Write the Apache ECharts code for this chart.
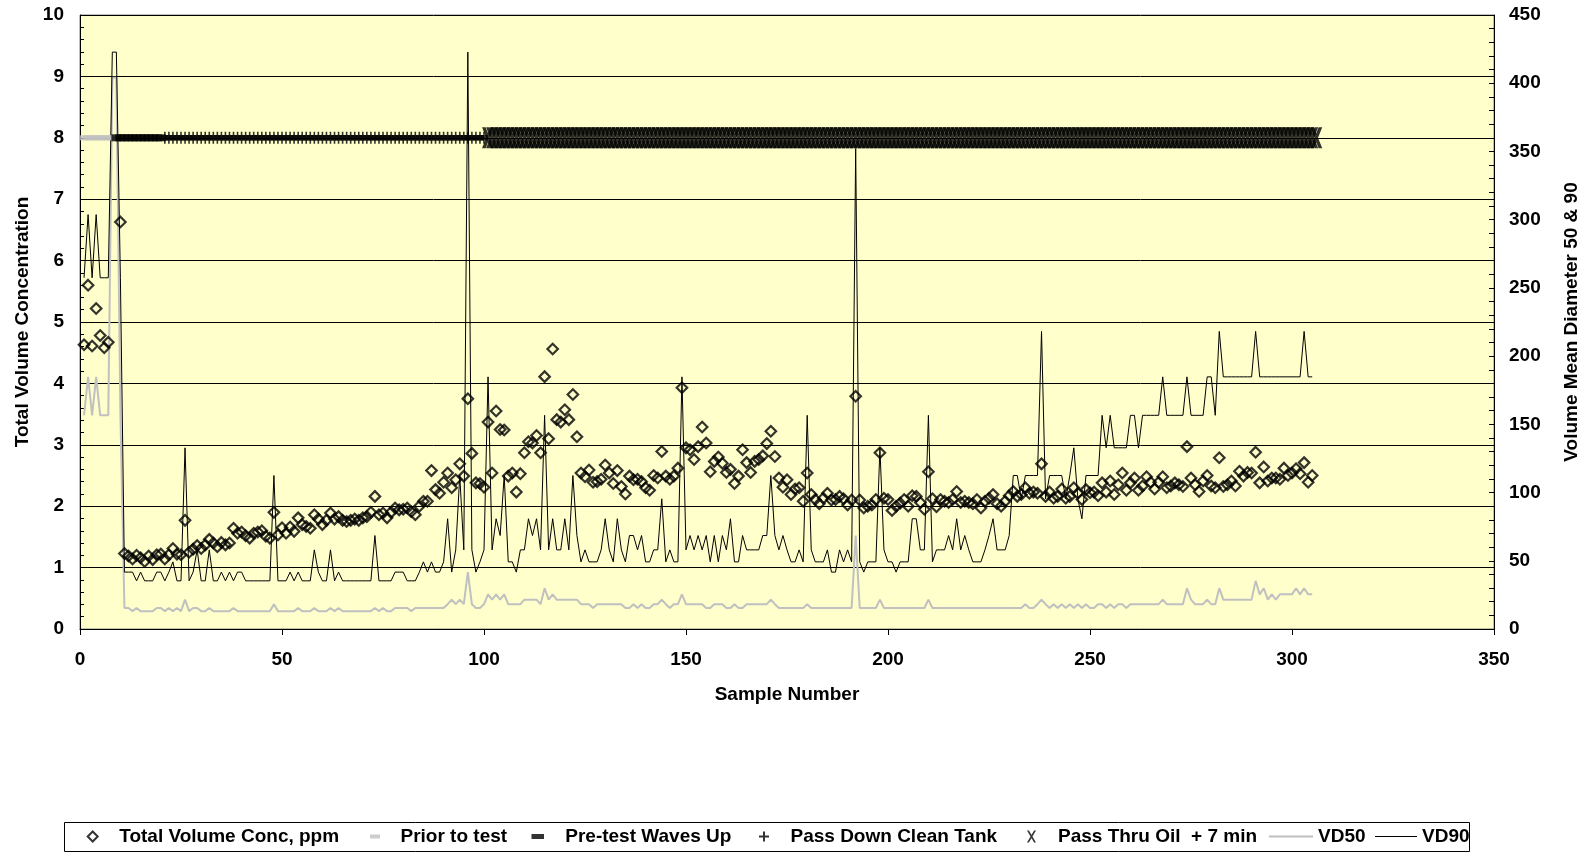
<!DOCTYPE html>
<html>
<head>
<meta charset="utf-8">
<script src="https://cdn.jsdelivr.net/npm/echarts/dist/echarts.min.js"></script>
<style>
html,body{margin:0;padding:0;background:#fff;}
#chart{width:1589px;height:853px;}
</style>
</head>
<body>
<div id="chart"></div>
<script>
// ---------------- data ----------------
const sampleStart = 1; // first sample number

// Total Volume Concentration (ppm), left axis, samples 1..305
const totalConc = [
4.63,5.60,4.61,5.22,4.78,4.58,4.67,null,null,6.63,
1.23,1.19,1.14,1.20,1.16,1.10,1.19,1.13,1.21,1.22,
1.14,1.21,1.31,1.22,1.21,1.77,1.25,1.30,1.36,1.31,
1.37,1.46,1.40,1.34,1.41,1.37,1.40,1.64,1.56,1.58,
1.52,1.48,1.56,1.58,1.60,1.51,1.48,1.90,1.53,1.65,
1.56,1.66,1.59,1.81,1.70,1.67,1.64,1.86,1.79,1.70,
1.77,1.89,1.79,1.83,1.77,1.75,1.77,1.79,1.77,1.81,
1.83,1.90,2.16,1.86,1.89,1.81,1.90,1.97,1.94,1.95,
1.97,1.91,1.86,2.00,2.08,2.08,2.58,2.27,2.21,2.39,
2.54,2.30,2.43,2.69,2.49,3.75,2.86,2.38,2.37,2.31,
3.37,2.54,3.55,3.25,3.24,2.49,2.54,2.23,2.53,2.87,
3.05,3.03,3.15,2.87,4.11,3.10,4.56,3.41,3.37,3.57,
3.41,3.82,3.13,2.54,2.48,2.59,2.39,2.40,2.44,2.67,
2.54,2.37,2.58,2.32,2.20,2.49,2.43,2.44,2.40,2.30,
2.26,2.50,2.46,2.89,2.49,2.44,2.49,2.62,3.93,2.95,
2.92,2.76,2.97,3.29,3.03,2.56,2.73,2.80,2.70,2.55,
2.60,2.37,2.49,2.92,2.71,2.55,2.73,2.76,2.82,3.02,
3.22,2.81,2.46,2.31,2.43,2.19,2.28,2.30,2.08,2.54,
2.19,2.11,2.04,2.13,2.21,2.10,2.11,2.16,2.12,2.02,
2.10,3.79,2.10,1.97,2.00,2.02,2.11,2.87,2.13,2.11,
1.93,2.00,2.05,2.11,2.00,2.17,2.16,2.06,1.95,2.56,
2.12,1.99,2.11,2.08,2.06,2.11,2.24,2.06,2.08,2.06,
2.04,2.11,1.97,2.08,2.13,2.19,2.04,2.00,2.08,2.17,
2.24,2.16,2.19,2.30,2.21,2.23,2.21,2.69,2.16,2.23,
2.13,2.16,2.28,2.13,2.16,2.30,2.21,2.11,2.27,2.22,
2.23,2.17,2.38,2.23,2.41,2.19,2.35,2.54,2.26,2.38,
2.46,2.26,2.33,2.48,2.39,2.28,2.39,2.48,2.30,2.33,
2.38,2.35,2.32,2.97,2.46,2.35,2.24,2.41,2.50,2.33,
2.30,2.79,2.32,2.35,2.41,2.33,2.57,2.49,2.55,2.54,
2.88,2.38,2.64,2.41,2.46,2.46,2.44,2.62,2.50,2.54,
2.61,2.53,2.71,2.39,2.50
];

// VD50 (right axis)
const vd50 = [
156.6,184.8,156.6,184.8,156.6,156.6,156.6,404,404,156.6,
15.4,15.4,13.1,15.4,13.1,13.1,13.1,13.1,15.4,15.4,
13.1,15.4,13.1,15.4,13.1,21.5,13.1,15.4,15.4,13.1,
13.1,15.4,13.1,13.1,13.1,13.1,13.1,15.4,13.1,13.1,
13.1,13.1,13.1,13.1,13.1,13.1,13.1,18.2,13.1,13.1,
13.1,13.1,13.1,15.4,13.1,13.1,13.1,15.4,13.1,13.1,
13.1,15.4,13.1,15.4,13.1,13.1,13.1,13.1,13.1,13.1,
13.1,13.1,15.4,13.1,15.4,13.1,13.1,15.4,15.4,15.4,
15.4,13.1,15.4,15.4,15.4,15.4,15.4,15.4,15.4,15.4,
18.2,21.5,18.2,21.5,18.2,41.7,18.2,15.4,15.4,18.2,
25.4,21.5,25.4,21.5,25.4,18.2,18.2,18.2,18.2,21.5,
21.5,21.5,21.5,18.2,29.9,21.5,25.4,21.5,21.5,21.5,
21.5,21.5,21.5,18.2,18.2,18.2,15.4,18.2,18.2,18.2,
18.2,18.2,18.2,18.2,15.4,15.4,18.2,15.4,18.2,15.4,
15.4,18.2,18.2,21.5,18.2,15.4,18.2,18.2,25.4,18.2,
18.2,18.2,18.2,18.2,15.4,15.4,18.2,18.2,18.2,15.4,
15.4,18.2,15.4,15.4,18.2,18.2,18.2,18.2,18.2,18.2,
21.5,18.2,15.4,15.4,15.4,15.4,15.4,15.4,15.4,18.2,
15.4,15.4,15.4,15.4,15.4,15.4,15.4,15.4,15.4,15.4,
15.4,68.5,15.4,15.4,15.4,15.4,15.4,21.5,15.4,15.4,
15.4,15.4,15.4,15.4,15.4,15.4,15.4,15.4,15.4,21.5,
15.4,15.4,15.4,15.4,15.4,15.4,15.4,15.4,15.4,15.4,
15.4,15.4,15.4,15.4,15.4,15.4,15.4,15.4,15.4,15.4,
15.4,15.4,15.4,18.2,15.4,15.4,18.2,21.5,18.2,15.4,
18.2,15.4,18.2,15.4,18.2,15.4,18.2,15.4,18.2,15.4,
15.4,18.2,18.2,15.4,18.2,15.4,18.2,18.2,15.4,18.2,
18.2,18.2,18.2,18.2,18.2,18.2,18.2,21.5,18.2,18.2,
18.2,18.2,18.2,29.9,21.5,18.2,18.2,18.2,21.5,18.2,
18.2,29.9,21.5,21.5,21.5,21.5,21.5,21.5,21.5,21.5,
35.3,25.4,29.9,21.5,25.4,21.5,25.4,25.4,25.4,25.4,
29.9,25.4,29.9,25.4,25.4
];

// VD90 (right axis)
const vd90 = [
257.4,303.7,257.4,303.7,257.4,257.4,257.4,422.8,422.8,257.4,
41.7,41.7,41.7,35.3,41.7,35.3,35.3,35.3,41.7,41.7,
35.3,41.7,49.2,35.3,35.3,132.8,35.3,41.7,58.0,35.3,
35.3,58.0,35.3,35.3,41.7,35.3,41.7,35.3,41.7,41.7,
35.3,35.3,35.3,35.3,35.3,35.3,35.3,112.5,35.3,35.3,
35.3,41.7,35.3,41.7,35.3,35.3,35.3,58.0,41.7,35.3,
35.3,58.0,35.3,41.7,35.3,35.3,35.3,35.3,35.3,35.3,
35.3,35.3,68.5,35.3,35.3,35.3,35.3,41.7,41.7,41.7,
35.3,35.3,35.3,41.7,49.2,41.7,49.2,41.7,41.7,49.2,
80.8,41.7,58.0,112.5,58.0,422.8,58.0,41.7,49.2,58.0,
184.8,58.0,80.8,68.5,112.5,49.2,49.2,41.7,58.0,58.0,
80.8,68.5,80.8,58.0,156.6,58.0,80.8,58.0,58.0,80.8,
58.0,112.5,68.5,49.2,58.0,49.2,49.2,49.2,58.0,80.8,
58.0,49.2,80.8,58.0,49.2,68.5,68.5,58.0,68.5,49.2,
49.2,58.0,58.0,95.4,49.2,58.0,49.2,49.2,184.8,58.0,
68.5,58.0,68.5,58.0,68.5,49.2,68.5,49.2,68.5,58.0,
80.8,49.2,49.2,68.5,58.0,58.0,58.0,58.0,68.5,68.5,
112.5,68.5,58.0,68.5,58.0,49.2,49.2,58.0,49.2,156.6,
58.0,49.2,49.2,49.2,58.0,41.7,41.7,58.0,49.2,58.0,
49.2,352,49.2,41.7,49.2,49.2,49.2,132.8,58.0,49.2,
49.2,41.7,49.2,49.2,49.2,80.8,80.8,58.0,58.0,156.6,
49.2,58.0,58.0,58.0,68.5,58.0,80.8,58.0,68.5,58.0,
49.2,49.2,49.2,58.0,68.5,80.8,58.0,58.0,58.0,68.5,
112.5,112.5,95.4,112.5,112.5,112.5,112.5,218.1,95.4,112.5,
112.5,112.5,112.5,95.4,112.5,132.8,95.4,80.8,112.5,112.5,
112.5,112.5,156.6,132.8,156.6,132.8,132.8,132.8,132.8,156.6,
156.6,132.8,156.6,156.6,156.6,156.6,156.6,184.8,156.6,156.6,
156.6,156.6,156.6,184.8,156.6,156.6,156.6,156.6,184.8,184.8,
156.6,218.1,184.8,184.8,184.8,184.8,184.8,184.8,184.8,184.8,
218.1,184.8,184.8,184.8,184.8,184.8,184.8,184.8,184.8,184.8,
184.8,184.8,218.1,184.8,184.8
];

// Test phases: sample ranges marked on the left axis at this level
const phaseLevel = 8;
const priorRange = [1, 8];
const pretestRange = [9, 20];
const passDownRange = [21, 100];
const passThruRange = [101, 306];

// Axis settings
const xTicks = {min: 0, max: 350, interval: 50};
const leftTicks = {min: 0, max: 10, interval: 1};
const rightTicks = {min: 0, max: 450, interval: 50};

const seriesNames = ['Total Volume Conc, ppm', 'Prior to test', 'Pre-test Waves Up',
  'Pass Down Clean Tank', 'Pass Thru Oil  + 7 min', 'VD50', 'VD90'];

// ---------------- build ----------------
const toPairs = arr => arr.map((v, i) => [sampleStart + i, v]);
const phasePoints = r => { const p = []; for (let s = r[0]; s <= r[1]; s++) p.push([s, phaseLevel]); return p; };

const FONT = "'Liberation Sans', Arial, Helvetica, sans-serif";
const txt = {fontFamily: FONT, fontWeight: 'bold', fontSize: 19, color: '#000'};

const plusPath = 'path://M0,3.3 L10,3.3 L10,8.7 L0,8.7 Z M4.0,0 L6.0,0 L6.0,12 L4.0,12 Z';
const crossPath = 'path://M0,0 L3.0,0 L10,10 L7.0,10 Z M7.0,0 L10,0 L3.0,10 L0,10 Z';
const diamondIcon = 'path://M5,0 L10,5 L5,10 L0,5 Z';
const dashIcon = 'path://M0,0 L10,0 L10,4 L0,4 Z';
const plusIcon = 'path://M0,4.0 L10,4.0 L10,6.0 L0,6.0 Z M4.0,0 L6.0,0 L6.0,10 L4.0,10 Z';
const crossIcon = 'path://M0,0 L1.9,0 L9,12 L7.1,12 Z M7.1,0 L9,0 L1.9,12 L0,12 Z';

const legendTop = 827;
const legendItems = [
  {name: seriesNames[0], left: 86.7, w: 43, h: 10, icon: diamondIcon},
  {name: seriesNames[1], left: 370, w: 41, h: 4, icon: dashIcon},
  {name: seriesNames[2], left: 531.5, w: 45, h: 5, icon: dashIcon},
  {name: seriesNames[3], left: 759, w: 43, h: 10, icon: plusIcon},
  {name: seriesNames[4], left: 1027, w: 43, h: 12, icon: crossIcon},
  {name: seriesNames[5], left: 1269, w: 44, h: 2, icon: 'path://M0,0 L44,0 L44,2 L0,2 Z', flat: true},
  {name: seriesNames[6], left: 1375, w: 42, h: 1, icon: 'path://M0,0 L42,0 L42,1 L0,1 Z', flat: true}
];

const legends = legendItems.map(l => {
  const o = {
    data: [{name: l.name, icon: l.icon}],
    left: l.left, top: legendTop,
    itemWidth: l.w, itemHeight: l.h, itemGap: 0, padding: 0,
    symbolKeepAspect: true, selectedMode: false,
    textStyle: Object.assign({}, txt)
  };
  if (l.flat) o.itemStyle = {borderWidth: 0};
  return o;
});

const chart = echarts.init(document.getElementById('chart'), null, {renderer: 'canvas'});
chart.setOption({
  animation: false,
  backgroundColor: '#ffffff',
  textStyle: {fontFamily: FONT},
  grid: {left: 80, right: 94, top: 15, bottom: 224, show: true,
         backgroundColor: '#FFFFCC', borderColor: '#808080', borderWidth: 1},
  graphic: [{type: 'rect', z: -10, shape: {x: 64.5, y: 822.5, width: 1405, height: 29},
             style: {fill: '#ffffff', stroke: '#000', lineWidth: 1}}],
  legend: legends,
  xAxis: {
    type: 'value', min: xTicks.min, max: xTicks.max, interval: xTicks.interval,
    name: 'Sample Number', nameLocation: 'middle', nameGap: 56, nameTextStyle: txt,
    axisLine: {show: true, onZero: false, lineStyle: {color: '#000', width: 1}},
    axisTick: {show: true, inside: false, length: 6, lineStyle: {color: '#000'}},
    axisLabel: Object.assign({margin: 21}, txt),
    splitLine: {show: false}
  },
  yAxis: [{
    type: 'value', position: 'left', min: leftTicks.min, max: leftTicks.max, interval: leftTicks.interval,
    name: 'Total Volume Concentration', nameLocation: 'middle', nameRotate: 90, nameGap: 46, nameTextStyle: txt,
    axisLine: {show: true, onZero: false, lineStyle: {color: '#000', width: 1}},
    axisTick: {show: true, inside: true, length: 4, lineStyle: {color: '#000'}},
    minorTick: {show: true, splitNumber: 5, length: 4, lineStyle: {color: '#000'}},
    axisLabel: Object.assign({margin: 16}, txt),
    splitLine: {show: true, lineStyle: {color: '#000', width: 1}}
  }, {
    type: 'value', position: 'right', min: rightTicks.min, max: rightTicks.max, interval: rightTicks.interval,
    name: 'Volume Mean Diameter 50 & 90', nameLocation: 'middle', nameRotate: 90, nameGap: 68, nameTextStyle: txt,
    axisLine: {show: true, onZero: false, lineStyle: {color: '#000', width: 1}},
    axisTick: {show: true, inside: true, length: 5, lineStyle: {color: '#000'}},
    minorTick: {show: true, splitNumber: 5, length: 5, lineStyle: {color: '#000'}},
    axisLabel: Object.assign({margin: 15}, txt),
    splitLine: {show: false}
  }],
  series: [
    {name: seriesNames[0], type: 'scatter', yAxisIndex: 0, data: toPairs(totalConc),
     symbol: 'diamond', symbolSize: 10.5, z: 3,
     itemStyle: {color: 'rgba(0,0,0,0)', borderColor: '#000', borderWidth: 2.2}},
    {name: seriesNames[1], type: 'scatter', yAxisIndex: 0, data: phasePoints(priorRange),
     symbol: 'rect', symbolSize: [10, 5], z: 3, itemStyle: {color: '#C0C0C0', borderWidth: 0}},
    {name: seriesNames[2], type: 'scatter', yAxisIndex: 0, data: phasePoints(pretestRange),
     symbol: 'rect', symbolSize: [10, 7], z: 3, itemStyle: {color: '#000', borderWidth: 0}},
    {name: seriesNames[3], type: 'scatter', yAxisIndex: 0, data: phasePoints(passDownRange),
     symbol: plusPath, symbolSize: [8, 12], z: 3, itemStyle: {color: '#000', borderWidth: 0}},
    {name: seriesNames[4], type: 'scatter', yAxisIndex: 0, data: phasePoints(passThruRange),
     symbol: crossPath, symbolSize: [12, 21], z: 3, itemStyle: {color: '#000', borderWidth: 0}},
    {name: seriesNames[5], type: 'line', yAxisIndex: 1, data: toPairs(vd50),
     symbol: 'none', showSymbol: false, z: 2, color: '#C0C0C0',
     lineStyle: {color: '#C0C0C0', width: 2}, itemStyle: {color: '#C0C0C0'}},
    {name: seriesNames[6], type: 'line', yAxisIndex: 1, data: toPairs(vd90),
     symbol: 'none', showSymbol: false, z: 2, color: '#000',
     lineStyle: {color: '#000', width: 1}, itemStyle: {color: '#000'}}
  ]
});
</script>
</body>
</html>
